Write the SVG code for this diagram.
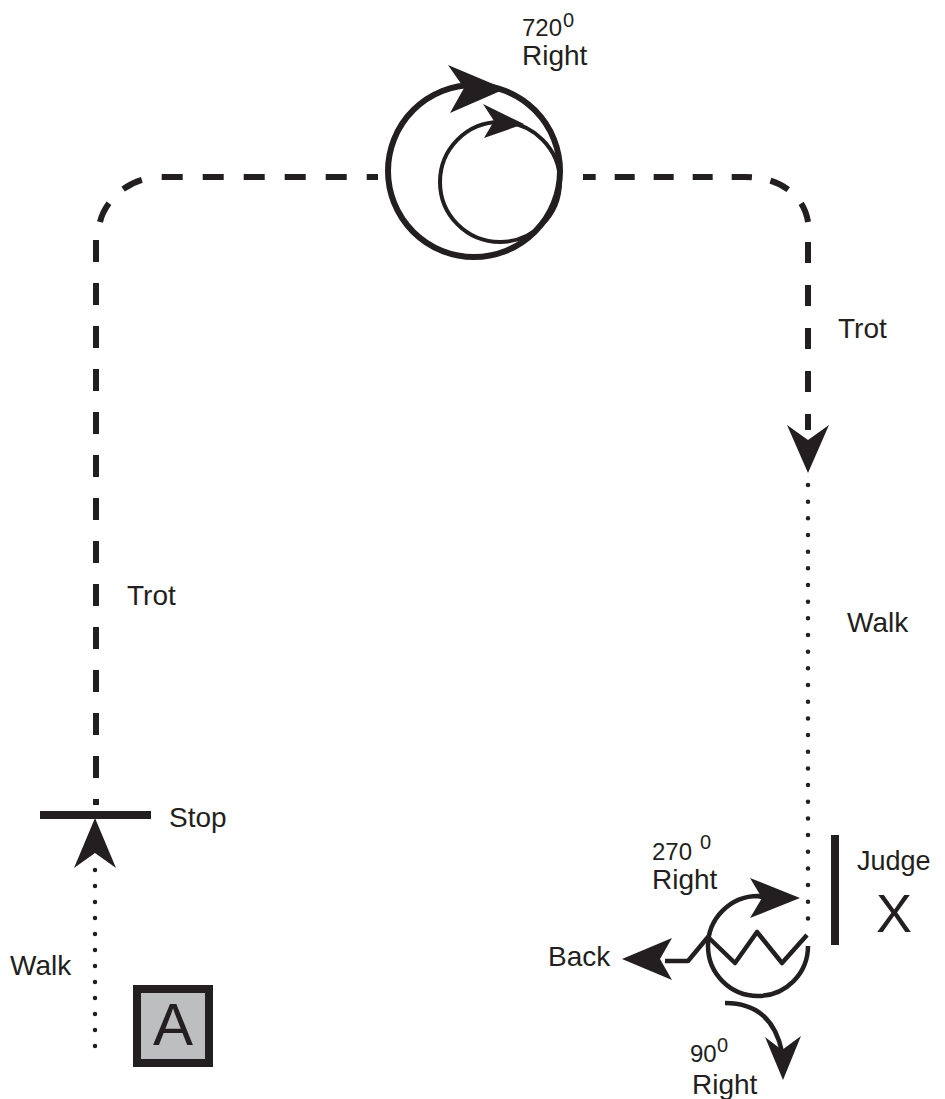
<svg xmlns="http://www.w3.org/2000/svg" width="945" height="1099" viewBox="0 0 945 1099">
<style>
text{font-family:"Liberation Sans",Arial,sans-serif;fill:#231f20}
.lbl{font-size:28px}
.num{font-size:24px}
.sup{font-size:20px}
.big{font-size:54px}
.dash{fill:none;stroke:#231f20;stroke-width:6}
.dot{fill:none;stroke:#231f20;stroke-width:4.5;stroke-linecap:round}
.ln{fill:none;stroke:#231f20;stroke-width:4.5;stroke-linejoin:round}
.ah{fill:#231f20}
</style>
<rect width="945" height="1099" fill="#fff"/>
<g id="connectors">
  <path class="dash" d="M96,240 V805" stroke-dasharray="22 21"/>
  <path class="dash" d="M100,222 C104,204 125,177 162,177 H378" stroke-dasharray="21 20"/>
  <path class="dash" d="M808,222 C805,200 785,177 745,177 H583" stroke-dasharray="20 19"/>
  <path class="dash" d="M808,242 V430" stroke-dasharray="21 22"/>
  <polygon class="ah" points="808,473 787,425 808,440 829,425"/>
  <path class="dot" d="M808,485 V935" stroke-dasharray="0 16.67"/>
  <path class="dot" d="M95,870 V1062" stroke-dasharray="0 16"/>
  <polygon class="ah" points="95,818 74,868 95,853 116,868"/>
  <rect x="40" y="811" width="111" height="8" fill="#231f20"/>
</g>
<g id="spin720">
  <circle cx="474" cy="171" r="86" fill="none" stroke="#231f20" stroke-width="6"/>
  <circle cx="500" cy="182" r="60" fill="none" stroke="#231f20" stroke-width="4"/>
  <polygon class="ah" points="448,65 505,89 450,113 464,88"/>
  <polygon class="ah" points="483,104 524,124 484,138 494,121"/>
</g>
<g id="spin270">
  <path class="ln" d="M808,946 A50,50 0 1 1 758,896 L765,898"/>
  <polygon class="ah" points="800,898 750,878 762,898 750,918"/>
  <polyline class="ln" points="807,935 782,963 757,932 735,963 708,937 688,961 665,961"/>
  <polygon class="ah" points="622,959 672,938 660,959 672,980"/>
  <path class="ln" d="M725,1003 Q772,1003 782,1052"/>
  <polygon class="ah" points="783,1080 765,1037 782,1050 801,1036"/>
</g>
<g id="judge">
  <rect x="831" y="835" width="8" height="110" fill="#231f20"/>
  <text x="857" y="870" style="font-size:27px">Judge</text>
  <text x="876" y="932" class="big">X</text>
</g>
<g id="markerA">
  <rect x="137" y="989" width="72" height="74" fill="#bcbec0" stroke="#231f20" stroke-width="8"/>
  <text x="173" y="1045" style="font-size:60px" text-anchor="middle">A</text>
</g>
<g id="labels">
  <text x="522" y="36" class="num">720</text>
  <text x="563" y="27" class="sup">0</text>
  <text x="522" y="65" class="lbl">Right</text>
  <text x="838" y="338" class="lbl">Trot</text>
  <text x="127" y="605" class="lbl">Trot</text>
  <text x="847" y="632" class="lbl">Walk</text>
  <text x="169" y="827" class="lbl">Stop</text>
  <text x="10" y="975" class="lbl">Walk</text>
  <text x="652" y="860" class="num">270</text>
  <text x="700" y="849" class="sup">0</text>
  <text x="652" y="889" class="lbl">Right</text>
  <text x="548" y="966" class="lbl">Back</text>
  <text x="690" y="1062" class="num">90</text>
  <text x="717" y="1052" class="sup">0</text>
  <text x="692" y="1094" class="lbl">Right</text>
</g>
</svg>
